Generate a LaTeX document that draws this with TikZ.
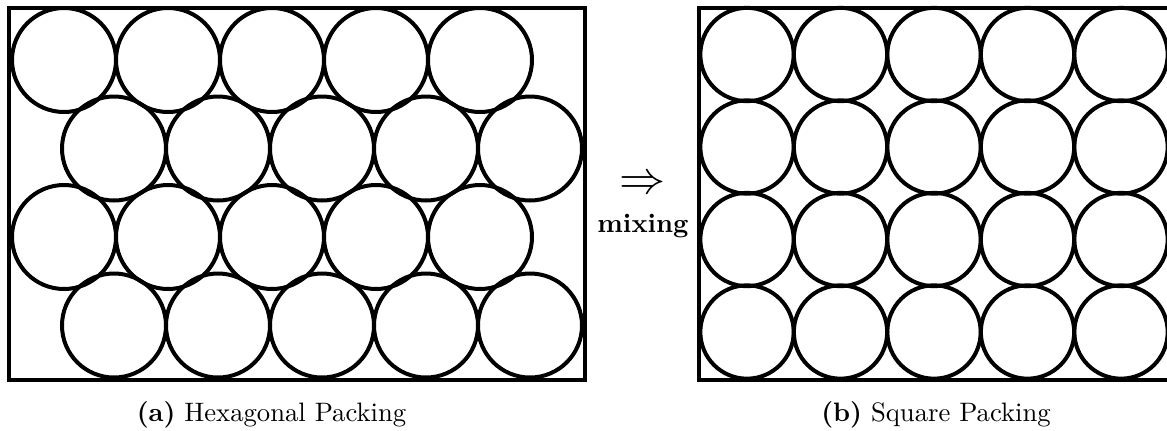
\documentclass[tikz,border=0pt]{standalone}
\usepackage{tikz}

\tikzset{
  hexball/.style={circle, draw, line width=1.5pt, minimum size=39pt, inner sep=0pt},
  sqball/.style={circle, draw, line width=1.5pt, minimum size=35pt, inner sep=0pt},
  frame/.style={line width=1.7pt}
}

\begin{document}
\begin{tikzpicture}[x=0.375pt, y=-0.375pt]
  \useasboundingbox (0,0) rectangle (1167,430);
  % hexagonal packing
  \draw[frame] (9,8) rectangle (585,380);
  \node[hexball] (h11) at (64,60) {};
  \node[hexball] (h12) at (168,60) {};
  \node[hexball] (h13) at (272,60) {};
  \node[hexball] (h14) at (376,60) {};
  \node[hexball] (h15) at (480,60) {};
  \node[hexball] (h21) at (114,148.5) {};
  \node[hexball] (h22) at (218,148.5) {};
  \node[hexball] (h23) at (322,148.5) {};
  \node[hexball] (h24) at (426,148.5) {};
  \node[hexball] (h25) at (530,148.5) {};
  \node[hexball] (h31) at (64,237) {};
  \node[hexball] (h32) at (168,237) {};
  \node[hexball] (h33) at (272,237) {};
  \node[hexball] (h34) at (376,237) {};
  \node[hexball] (h35) at (480,237) {};
  \node[hexball] (h41) at (114,325.5) {};
  \node[hexball] (h42) at (218,325.5) {};
  \node[hexball] (h43) at (322,325.5) {};
  \node[hexball] (h44) at (426,325.5) {};
  \node[hexball] (h45) at (530,325.5) {};
  \node[anchor=base] (capa) at (271.5,421) {\textbf{(a)} Hexagonal Packing};
  % arrow in between
  \node (arrow) at (643,185) {\fontsize{19}{22}\selectfont$\Rightarrow$};
  \node[anchor=base] (mix) at (643,232) {\textbf{mixing}};
  % square packing
  \draw[frame] (1170,8) -- (699,8) -- (699,380) -- (1170,380);
  \node[sqball] (s11) at (747,54.5) {};
  \node[sqball] (s12) at (840.5,54.5) {};
  \node[sqball] (s13) at (934,54.5) {};
  \node[sqball] (s14) at (1027.5,54.5) {};
  \node[sqball] (s15) at (1121,54.5) {};
  \node[sqball] (s21) at (747,147) {};
  \node[sqball] (s22) at (840.5,147) {};
  \node[sqball] (s23) at (934,147) {};
  \node[sqball] (s24) at (1027.5,147) {};
  \node[sqball] (s25) at (1121,147) {};
  \node[sqball] (s31) at (747,239.5) {};
  \node[sqball] (s32) at (840.5,239.5) {};
  \node[sqball] (s33) at (934,239.5) {};
  \node[sqball] (s34) at (1027.5,239.5) {};
  \node[sqball] (s35) at (1121,239.5) {};
  \node[sqball] (s41) at (747,332) {};
  \node[sqball] (s42) at (840.5,332) {};
  \node[sqball] (s43) at (934,332) {};
  \node[sqball] (s44) at (1027.5,332) {};
  \node[sqball] (s45) at (1121,332) {};
  \node[anchor=base] (capb) at (936,421) {\textbf{(b)} Square Packing};
\end{tikzpicture}
\end{document}
